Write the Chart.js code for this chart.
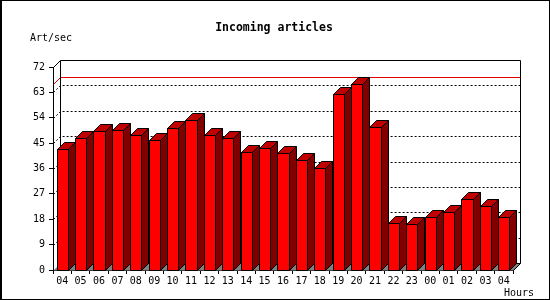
<!DOCTYPE html>
<html><head><meta charset="utf-8">
<script src="https://cdn.jsdelivr.net/npm/chart.js@4/dist/chart.umd.min.js"></script>
<style>html,body{margin:0;padding:0;background:#fff}canvas{display:block}</style>
</head><body>
<canvas id="c" width="550" height="300"></canvas>
<script>
// ---- data ----
const hours = ['04','05','06','07','08','09','10','11','12','13','14','15','16','17','18','19','20','21','22','23','00','01','02','03','04'];
const artPerSec = [42.8,46.7,49.2,49.6,47.9,46.0,50.2,53.2,47.9,46.8,41.9,43.3,41.5,39.0,36.2,62.4,65.9,50.6,16.6,16.2,18.7,20.5,25.1,22.6,18.7];
const yMin = 0, yMax = 72, yStep = 9;
const chartTitle = 'Incoming articles';
const yAxisTitle = 'Art/sec';
const xAxisTitle = 'Hours';

const DEPTH = 7;
const MONO = '"DejaVu Sans Mono", "Liberation Mono", monospace';

const bars3d = {
  id: 'bars3d',
  beforeDatasetsDraw(chart) {
    const ctx = chart.ctx, a = chart.chartArea, ys = chart.scales.y, D = DEPTH;
    const L = Math.round(a.left), R = Math.round(a.right), T = Math.round(a.top), B = Math.round(a.bottom);
    ctx.save();
    // floor
    ctx.fillStyle = '#808080';
    ctx.beginPath();
    ctx.moveTo(L + 0.5, B + 0.5); ctx.lineTo(L + D + 0.5, B - D + 0.5);
    ctx.lineTo(R + D + 0.5, B - D + 0.5); ctx.lineTo(R + 0.5, B + 0.5);
    ctx.closePath(); ctx.fill();
    // dotted grid on back wall
    ctx.strokeStyle = '#000'; ctx.lineWidth = 1; ctx.setLineDash([2, 2]);
    for (let v = yMin + yStep; v < yMax; v += yStep) {
      const y = Math.round(ys.getPixelForValue(v)) + 0.5;
      ctx.beginPath();
      ctx.moveTo(L + 0.5, y); ctx.lineTo(L + D + 0.5, y - D); ctx.lineTo(R + D + 0.5, y - D);
      ctx.stroke();
    }
    ctx.setLineDash([]);
    // max line
    const ym = Math.round(ys.getPixelForValue(Math.max(...artPerSec))) + 0.5;
    ctx.strokeStyle = '#e00000';
    ctx.beginPath();
    ctx.moveTo(L + 0.5, ym); ctx.lineTo(L + D + 0.5, ym - D); ctx.lineTo(R + D + 0.5, ym - D);
    ctx.stroke();
    // back frame
    ctx.strokeStyle = '#000';
    ctx.beginPath();
    ctx.moveTo(L + 0.5, T + 0.5); ctx.lineTo(L + D + 0.5, T - D + 0.5);
    ctx.lineTo(R + D + 0.5, T - D + 0.5); ctx.lineTo(R + D + 0.5, B - D + 0.5);
    ctx.lineTo(R + 0.5, B + 0.5);
    ctx.moveTo(L + D + 0.5, T - D + 0.5); ctx.lineTo(L + D + 0.5, B - D + 0.5);
    ctx.lineTo(R + D + 0.5, B - D + 0.5);
    ctx.stroke();
    ctx.restore();
  },
  afterDatasetsDraw(chart) {
    const ctx = chart.ctx, D = DEPTH;
    const meta = chart.getDatasetMeta(0);
    ctx.save();
    ctx.strokeStyle = '#000'; ctx.lineWidth = 1;
    meta.data.forEach(el => {
      const p = el.getProps(['x', 'y', 'base', 'width'], true);
      const l = Math.round(p.x - p.width / 2) + 0.5, r = Math.round(p.x + p.width / 2) + 0.5;
      const t = Math.round(p.y) + 0.5, b = Math.round(p.base) + 0.5;
      // front
      ctx.fillStyle = '#ff0000';
      ctx.beginPath(); ctx.rect(l, t, r - l, b - t); ctx.fill(); ctx.stroke();
      // top
      ctx.fillStyle = '#c00000';
      ctx.beginPath(); ctx.moveTo(l, t); ctx.lineTo(l + D, t - D); ctx.lineTo(r + D, t - D); ctx.lineTo(r, t); ctx.closePath(); ctx.fill(); ctx.stroke();
      // side
      ctx.fillStyle = '#800000';
      ctx.beginPath(); ctx.moveTo(r, t); ctx.lineTo(r + D, t - D); ctx.lineTo(r + D, b - D); ctx.lineTo(r, b); ctx.closePath(); ctx.fill(); ctx.stroke();
    });
    ctx.restore();
  },
  afterDraw(chart) {
    const ctx = chart.ctx;
    ctx.save();
    ctx.fillStyle = '#000';
    ctx.textBaseline = 'alphabetic';
    ctx.font = 'bold 11.5px ' + MONO;
    ctx.textAlign = 'center';
    ctx.fillText(chartTitle, 274, 31);
    ctx.font = '10px ' + MONO;
    ctx.textAlign = 'left';
    ctx.fillText(yAxisTitle, 30, 41);
    ctx.fillText(xAxisTitle, 504, 296);
    // outer frame
    ctx.strokeStyle = '#000'; ctx.lineWidth = 1;
    ctx.strokeRect(0.5, 0.5, 549, 299);
    ctx.fillRect(1, 0, 1, 300);
    ctx.restore();
  }
};

new Chart(document.getElementById('c'), {
  type: 'bar',
  data: {
    labels: hours,
    datasets: [{
      data: artPerSec,
      backgroundColor: 'rgba(0,0,0,0)',
      borderWidth: 0,
      barPercentage: 0.6,
      categoryPercentage: 1
    }]
  },
  options: {
    responsive: false,
    animation: false,
    devicePixelRatio: 1,
    layout: { padding: { left: 0, right: 37, top: 67, bottom: 0 } },
    plugins: { legend: { display: false }, tooltip: { enabled: false }, title: { display: false } },
    scales: {
      x: {
        grid: { display: true, drawOnChartArea: false, drawTicks: true, tickLength: 4, color: '#000', offset: true },
        border: { display: true, color: '#000' },
        ticks: { color: '#000', font: { family: MONO, size: 10 }, padding: 1, maxRotation: 0, autoSkip: false },
        afterFit(s) { s.height = 30; }
      },
      y: {
        min: yMin, max: yMax,
        ticks: { stepSize: yStep, color: '#000', font: { family: MONO, size: 10 }, padding: 4 },
        grid: { drawOnChartArea: false, drawTicks: true, tickLength: 4, color: '#000' },
        border: { display: true, color: '#000' },
        afterFit(s) { s.width = 53; }
      }
    }
  },
  plugins: [bars3d]
});
</script>
</body></html>
